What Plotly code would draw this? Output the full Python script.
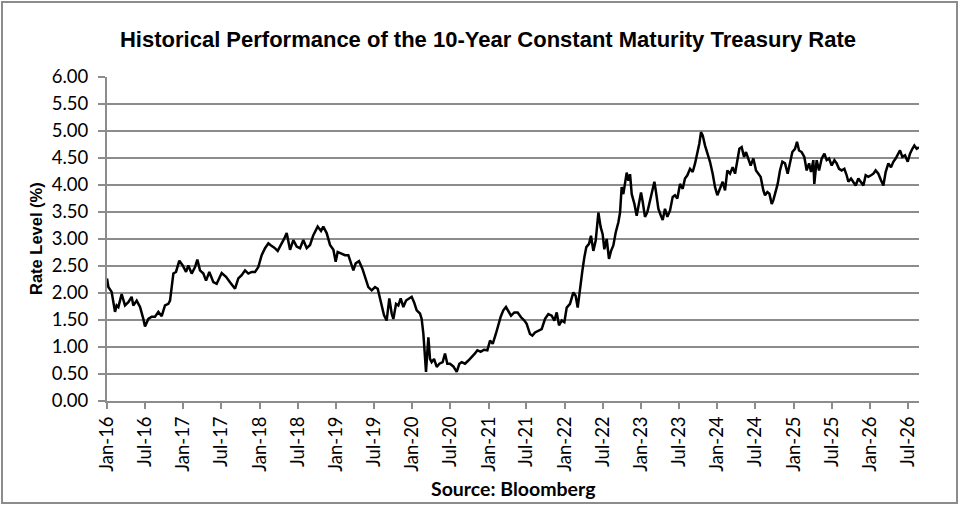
import numpy as np
import pandas as pd
import plotly.graph_objects as go

year_frac = [
    2016.000, 2016.018, 2016.061, 2016.105, 2016.127, 2016.149, 2016.192, 2016.236, 2016.280, 2016.323,
    2016.345, 2016.389, 2016.433, 2016.454, 2016.476, 2016.498, 2016.542, 2016.586, 2016.629, 2016.673,
    2016.717, 2016.760, 2016.804, 2016.826, 2016.870, 2016.904, 2016.948, 2016.992, 2017.036, 2017.066,
    2017.110, 2017.154, 2017.184, 2017.219, 2017.263, 2017.298, 2017.341, 2017.394, 2017.437, 2017.503,
    2017.560, 2017.612, 2017.678, 2017.721, 2017.765, 2017.809,
    2017.852, 2017.896, 2017.940, 2017.983, 2018.027, 2018.071, 2018.115, 2018.150, 2018.193, 2018.237,
    2018.281, 2018.324, 2018.355, 2018.377, 2018.399, 2018.442, 2018.486, 2018.530, 2018.573, 2018.617,
    2018.661, 2018.704, 2018.761, 2018.805, 2018.835, 2018.879, 2018.923, 2018.967, 2018.997, 2019.023,
    2019.067, 2019.119, 2019.163, 2019.207, 2019.229, 2019.259, 2019.303, 2019.347, 2019.390, 2019.425,
    2019.469, 2019.513, 2019.548,
    2019.600, 2019.630, 2019.665, 2019.687, 2019.700, 2019.731, 2019.753, 2019.788, 2019.818, 2019.849,
    2019.884, 2019.919, 2019.962, 2019.993, 2020.024, 2020.059, 2020.102, 2020.124, 2020.146, 2020.168,
    2020.181, 2020.198, 2020.212, 2020.233, 2020.255, 2020.286, 2020.321, 2020.356, 2020.399, 2020.430,
    2020.460, 2020.495, 2020.539, 2020.583, 2020.618, 2020.648, 2020.692, 2020.736, 2020.779, 2020.823,
    2020.854, 2020.897, 2020.941, 2020.985, 2021.020, 2021.055, 2021.098, 2021.129, 2021.160, 2021.194,
    2021.229,
    2021.295, 2021.339, 2021.382, 2021.426, 2021.470, 2021.500, 2021.544, 2021.575, 2021.610, 2021.653,
    2021.697, 2021.741, 2021.784, 2021.828, 2021.863, 2021.894, 2021.924, 2021.959, 2021.994, 2022.025,
    2022.068, 2022.112, 2022.142, 2022.169, 2022.199, 2022.230, 2022.256, 2022.282, 2022.317, 2022.343,
    2022.374, 2022.405, 2022.440, 2022.470, 2022.496, 2022.518, 2022.549, 2022.579, 2022.606, 2022.636,
    2022.667, 2022.702, 2022.724, 2022.745, 2022.767, 2022.789, 2022.811, 2022.833, 2022.855, 2022.877,
    2022.912, 2022.942, 2022.973, 2022.999,
    2023.021, 2023.051, 2023.082, 2023.117, 2023.152, 2023.174, 2023.195, 2023.226, 2023.257, 2023.283,
    2023.313, 2023.344, 2023.379, 2023.414, 2023.444, 2023.475, 2023.510, 2023.545, 2023.575, 2023.606,
    2023.641, 2023.676, 2023.707, 2023.737, 2023.763, 2023.785, 2023.807, 2023.838, 2023.868, 2023.903,
    2023.938, 2023.969, 2023.999, 2024.034, 2024.069, 2024.100, 2024.130, 2024.165, 2024.200, 2024.231,
    2024.261, 2024.288, 2024.318, 2024.349, 2024.375, 2024.406, 2024.436, 2024.471, 2024.506, 2024.537,
    2024.567, 2024.602, 2024.624, 2024.655, 2024.681, 2024.712, 2024.733,
    2024.790, 2024.820, 2024.851, 2024.886, 2024.921, 2024.952, 2024.982, 2025.017, 2025.043, 2025.070,
    2025.104, 2025.139, 2025.170, 2025.201, 2025.227, 2025.257, 2025.270, 2025.301, 2025.332, 2025.367,
    2025.402, 2025.432, 2025.463, 2025.498, 2025.533, 2025.563, 2025.594, 2025.629, 2025.664, 2025.694,
    2025.716, 2025.751, 2025.782, 2025.812, 2025.847, 2025.882, 2025.913, 2025.943, 2025.978, 2026.013,
    2026.044, 2026.074, 2026.109, 2026.144, 2026.175, 2026.205, 2026.240, 2026.275, 2026.306, 2026.336,
    2026.371, 2026.393, 2026.424, 2026.459, 2026.494, 2026.524, 2026.555, 2026.581, 2026.612, 2026.642,
]

# 10-Year constant maturity Treasury rate (%)
rate = [
    2.27, 2.11, 2.02, 1.65, 1.77, 1.74, 1.98, 1.77, 1.83, 1.93,
    1.77, 1.86, 1.74, 1.65, 1.52, 1.38, 1.52, 1.56, 1.56, 1.65,
    1.57, 1.77, 1.80, 1.86, 2.36, 2.39, 2.60, 2.51, 2.39, 2.51,
    2.36, 2.48, 2.62, 2.42, 2.36, 2.23, 2.39, 2.20, 2.17, 2.37,
    2.30, 2.20, 2.08, 2.27, 2.33, 2.42,
    2.36, 2.39, 2.39, 2.48, 2.70, 2.83, 2.92, 2.88, 2.84, 2.78,
    2.89, 3.01, 3.11, 2.95, 2.80, 2.98, 2.86, 2.83, 2.98, 2.83,
    2.89, 3.07, 3.23, 3.15, 3.23, 3.11, 2.89, 2.80, 2.58, 2.76,
    2.73, 2.70, 2.70, 2.52, 2.42, 2.55, 2.59, 2.45, 2.24, 2.11,
    2.05, 2.11, 2.08,
    1.77, 1.59, 1.49, 1.74, 1.90, 1.62, 1.52, 1.80, 1.77, 1.90,
    1.74, 1.86, 1.90, 1.93, 1.83, 1.68, 1.62, 1.52, 1.25, 0.81,
    0.54, 0.91, 1.18, 0.78, 0.72, 0.78, 0.63, 0.69, 0.72, 0.88,
    0.69, 0.69, 0.64, 0.54, 0.69, 0.72, 0.69, 0.75, 0.81, 0.88,
    0.94, 0.91, 0.95, 0.94, 1.12, 1.06, 1.25, 1.43, 1.56, 1.68,
    1.74,
    1.58, 1.64, 1.64, 1.55, 1.49, 1.43, 1.24, 1.21, 1.27, 1.30,
    1.33, 1.52, 1.61, 1.58, 1.49, 1.64, 1.40, 1.49, 1.46, 1.73,
    1.80, 2.01, 1.95, 1.73, 2.10, 2.41, 2.66, 2.85, 2.91, 3.06,
    2.78, 2.97, 3.49, 3.22, 3.09, 2.81, 3.00, 2.63, 2.78, 2.88,
    3.12, 3.31, 3.49, 3.96, 3.83, 4.08, 4.23, 4.08, 4.20, 3.83,
    3.65, 3.43, 3.65, 3.86,
    3.69, 3.41, 3.50, 3.72, 3.96, 4.06, 3.87, 3.56, 3.44, 3.35,
    3.56, 3.41, 3.53, 3.78, 3.81, 3.75, 4.02, 3.93, 4.12, 4.18,
    4.30, 4.24, 4.40, 4.58, 4.77, 4.98, 4.92, 4.73, 4.61, 4.43,
    4.21, 3.96, 3.81, 3.93, 4.06, 3.90, 4.27, 4.21, 4.33, 4.21,
    4.46, 4.67, 4.70, 4.52, 4.61, 4.46, 4.36, 4.49, 4.27, 4.21,
    4.15, 3.90, 3.81, 3.87, 3.84, 3.65, 3.72,
    4.02, 4.27, 4.43, 4.40, 4.21, 4.40, 4.61, 4.67, 4.80, 4.64,
    4.61, 4.52, 4.27, 4.40, 4.24, 4.46, 4.02, 4.46, 4.27, 4.49,
    4.58, 4.46, 4.49, 4.36, 4.46, 4.40, 4.30, 4.27, 4.30, 4.18,
    4.06, 4.12, 4.06, 3.99, 4.12, 4.06, 3.99, 4.18, 4.15, 4.18,
    4.21, 4.27, 4.21, 4.09, 3.99, 4.24, 4.40, 4.33, 4.43, 4.49,
    4.58, 4.64, 4.52, 4.55, 4.43, 4.58, 4.67, 4.73, 4.67, 4.70,
]

y_ticks = [0.0, 0.5, 1.0, 1.5, 2.0, 2.5, 3.0, 3.5, 4.0, 4.5, 5.0, 5.5, 6.0]

title_text = "Historical Performance of the 10-Year Constant Maturity Treasury Rate"
y_title = "Rate Level (%)"
source_text = "Source: Bloomberg"

dates = pd.Timestamp("2016-01-01") + pd.to_timedelta(
    (np.array(year_frac) - 2016.0) * 365.25, unit="D")

GRID = "#8c8c8c"
TICKFONT = dict(family="Lato, Open Sans, sans-serif", size=18.5, color="#000000")

fig = go.Figure()
fig.add_trace(go.Scatter(
    x=dates, y=rate, mode="lines",
    line=dict(color="#000000", width=2.5),
    hoverinfo="x+y", showlegend=False,
))

fig.update_layout(
    width=960, height=505,
    margin=dict(l=107, r=41, t=77, b=104),
    paper_bgcolor="white", plot_bgcolor="white",
    title=dict(
        text="<b>" + title_text + "</b>",
        font=dict(family="Liberation Sans, Arial, sans-serif", size=22, color="#000000"),
        xref="container", x=488 / 960, xanchor="center",
        yref="container", y=1 - 39 / 505, yanchor="middle",
    ),
    xaxis=dict(
        type="date",
        range=[dates[0], dates[-1]],
        tick0="2016-01-01", dtick="M6", tickformat="%b-%y",
        tickangle=-90,
        showgrid=False, zeroline=False,
        showline=True, linecolor=GRID, linewidth=2,
        ticks="outside", ticklen=6, tickwidth=1.5, tickcolor=GRID,
        tickfont=TICKFONT,
    ),
    yaxis=dict(
        range=[0, 6],
        tickvals=y_ticks,
        tickformat=".2f",
        showgrid=True, gridcolor=GRID, gridwidth=1.7,
        zeroline=False,
        showline=True, linecolor=GRID, linewidth=2,
        ticks="outside", ticklen=7, tickwidth=1.5, tickcolor=GRID,
        tickfont=TICKFONT,
        ticklabelstandoff=6,
    ),
    annotations=[
        dict(
            text="<b>" + y_title + "</b>", textangle=-90,
            xref="paper", yref="paper", x=(36 - 107) / 812, y=0.5,
            xanchor="center", yanchor="middle", showarrow=False,
            font=dict(family="Liberation Sans, Arial, sans-serif", size=16.5, color="#000000"),
        ),
        dict(
            text="<b>" + source_text + "</b>",
            xref="paper", yref="paper", x=0.5, y=(401 - 489) / 324,
            xanchor="center", yanchor="middle", showarrow=False,
            font=dict(family="Lato, Open Sans, sans-serif", size=19.5, color="#000000"),
        ),
    ],
    shapes=[
        dict(
            type="rect", xref="paper", yref="paper",
            x0=(2 - 107) / 812, x1=(957 - 107) / 812,
            y0=(401 - 503) / 324, y1=(401 - 2) / 324,
            line=dict(color="#8c8c8c", width=2), fillcolor="rgba(0,0,0,0)",
            layer="above",
        ),
    ],
)

fig.write_html("out.html", config={"displayModeBar": False},
               post_script="document.body.style.margin='0';")
